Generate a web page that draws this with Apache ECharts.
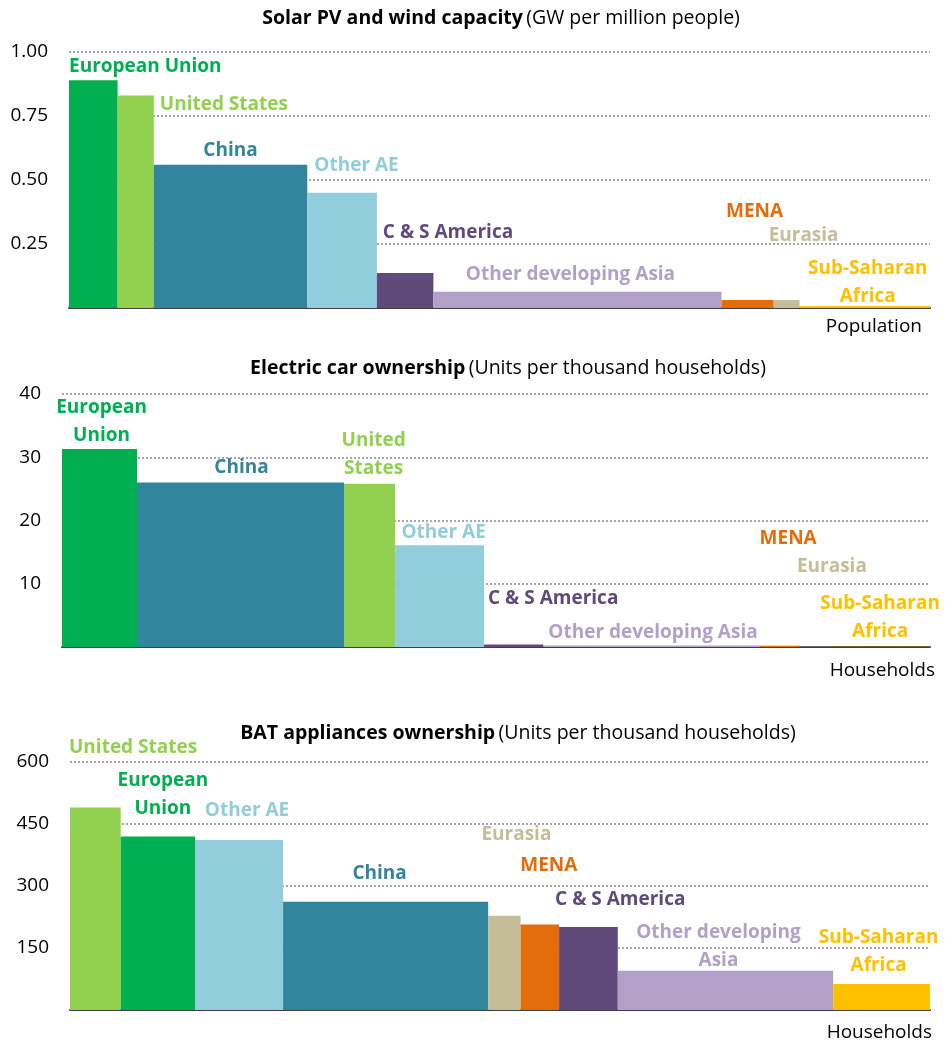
<!DOCTYPE html>
<html>
<head>
<meta charset="utf-8">
<script src="https://cdn.jsdelivr.net/npm/echarts@6/dist/echarts.min.js"></script>
<style>
  html, body { margin: 0; padding: 0; background: #fff; }
  #chart { width: 945px; height: 1049px; }
</style>
</head>
<body>
<div id="chart"></div>
<script>
// Solar PV and wind capacity (GW per million people), bar width = population (million)
var pvRegions = ['European Union', 'United States', 'China', 'Other AE', 'C & S America', 'Other developing Asia', 'MENA', 'Eurasia', 'Sub-Saharan\nAfrica'];
var pvPopulation = [447, 333, 1412, 640, 520, 2650, 480, 238, 1200];
var pvCapacity = [0.89, 0.83, 0.56, 0.45, 0.137, 0.063, 0.031, 0.031, 0.008];
var pvTicks = [0, 0.25, 0.5, 0.75, 1];

// Electric car ownership (units per thousand households), bar width = households (million)
var evRegions = ['European\nUnion', 'China', 'United\nStates', 'Other AE', 'C & S America', 'Other developing Asia', 'MENA', 'Eurasia', 'Sub-Saharan\nAfrica'];
var evHouseholds = [195, 538, 133, 231, 154, 565, 101, 85, 254];
var evOwnership = [31.3, 26.0, 25.8, 16.1, 0.4, 0.25, 0.2, 0.05, 0.05];
var evTicks = [0, 10, 20, 30, 40];

// BAT appliances ownership (units per thousand households)
var batRegions = ['United States', 'European\nUnion', 'Other AE', 'China', 'Eurasia', 'MENA', 'C & S America', 'Other developing\nAsia', 'Sub-Saharan\nAfrica'];
var batHouseholds = [133, 195, 231, 538, 85, 101, 154, 565, 254];
var batOwnership = [490, 420, 411, 262, 228, 207, 201, 95, 63];
var batTicks = [0, 150, 300, 450, 600];

// colours per region
var regionColor = {
  'European Union': '#00AF50',
  'United States': '#92D050',
  'China': '#31859C',
  'Other AE': '#92CDDC',
  'C & S America': '#604A7B',
  'Other developing Asia': '#B1A0C7',
  'MENA': '#E46C0A',
  'Eurasia': '#C4BD97',
  'Sub-Saharan Africa': '#FFC000'
};

// label placement: [anchor (c = bar centre, l = bar left, r = bar right), dx, dy from bar top]
var pvLabelPos = [['l', 0, -14], ['r', 6, 9], ['c', 0, -14], ['l', 7, -27], ['l', 6, -40], ['c', -7, -17], ['c', 7, -88], ['c', 17, -64], ['c', 3, -23]];
var evLabelPos = [['c', 2, -27], ['c', 1, -15], ['c', 4, -29], ['c', 4, -13], ['l', 4, -46], ['c', 1, -13], ['c', 8, -107], ['c', 16, -80], ['c', -1, -29]];
var batLabelPos = [['l', -1, -60], ['c', 5, -42], ['c', 8, -30], ['c', -6, -28], ['c', 12, -81], ['c', 9, -59], ['l', -4, -27], ['c', -7, -24], ['c', -3, -32]];

var FONT = '"Open Sans", "Noto Sans", sans-serif';

function buildData(regions, widths, values) {
  var start = 0;
  return regions.map(function (name, i) {
    var item = { value: [start, start + widths[i], values[i], i], name: name };
    start += widths[i];
    return item;
  });
}

function sum(arr) {
  return arr.reduce(function (a, b) { return a + b; }, 0);
}

function makeRender(regions, labelPos) {
  return function (params, api) {
    var i = api.value(3);
    var topLeft = api.coord([api.value(0), api.value(2)]);
    var bottomRight = api.coord([api.value(1), 0]);
    var name = regions[i];
    var color = regionColor[name.replace('\n', ' ')];
    var pos = labelPos[i];
    var left = topLeft[0], right = bottomRight[0];
    var tx, align;
    if (pos[0] === 'l') { tx = left + pos[1]; align = 'left'; }
    else if (pos[0] === 'r') { tx = right + pos[1]; align = 'left'; }
    else { tx = (left + right) / 2 + pos[1]; align = 'center'; }
    return {
      type: 'group',
      children: [
        {
          type: 'rect',
          shape: { x: left, y: topLeft[1], width: right - left, height: bottomRight[1] - topLeft[1] },
          style: { fill: color }
        },
        {
          type: 'text',
          z2: 10,
          style: {
            text: name,
            x: tx,
            y: topLeft[1] + pos[2],
            align: align,
            verticalAlign: 'middle',
            fill: color,
            font: 'bold 19px ' + FONT,
            lineHeight: 28
          }
        }
      ]
    };
  };
}

function makeYAxis(gridIndex, ticks, digits) {
  return {
    gridIndex: gridIndex,
    type: 'value',
    min: ticks[0],
    max: ticks[ticks.length - 1],
    interval: ticks[1] - ticks[0],
    axisLine: { show: false },
    axisTick: { show: false },
    axisLabel: {
      margin: 21,
      fontSize: 19,
      fontFamily: FONT,
      color: '#000',
      formatter: function (v) { return v === 0 ? '' : v.toFixed(digits); }
    },
    splitLine: {
      show: true,
      lineStyle: { color: '#A6A6A6', type: [2, 2], width: 2 }
    }
  };
}

function makeXAxis(gridIndex, total, name, gap, pad) {
  return {
    gridIndex: gridIndex,
    type: 'value',
    min: 0,
    max: total,
    axisLine: { show: true, lineStyle: { color: '#404040', width: 2 } },
    axisTick: { show: false },
    axisLabel: { show: false },
    splitLine: { show: false },
    name: name,
    nameLocation: 'end',
    nameGap: gap,
    nameTextStyle: {
      align: 'right',
      verticalAlign: 'top',
      padding: [pad, 0, 0, 0],
      fontSize: 19,
      fontFamily: FONT,
      color: '#000'
    }
  };
}

function titleText(x, y, bold, rest) {
  return {
    type: 'text',
    x: x,
    y: y,
    style: {
      text: '{b|' + bold + '} {n|' + rest + '}',
      align: 'center',
      verticalAlign: 'middle',
      rich: {
        b: { fontWeight: 'bold', fontSize: 19.5, fontFamily: FONT, fill: '#000' },
        n: { fontSize: 19.5, fontFamily: FONT, fill: '#000' }
      }
    }
  };
}

var chart = echarts.init(document.getElementById('chart'));
var option = {
  animation: false,
  backgroundColor: '#fff',
  graphic: [
    titleText(501, 18, 'Solar PV and wind capacity', '(GW per million people)'),
    titleText(508, 368, 'Electric car ownership', '(Units per thousand households)'),
    titleText(518, 733, 'BAT appliances ownership', '(Units per thousand households)')
  ],
  grid: [
    { left: 69, right: 15, top: 52, height: 256 },
    { left: 62, right: 15, top: 394, height: 253 },
    { left: 70, right: 15, top: 762, height: 248 }
  ],
  xAxis: [
    makeXAxis(0, sum(pvPopulation), 'Population', -8, 9),
    makeXAxis(1, sum(evHouseholds), 'Households', 5, 14),
    makeXAxis(2, sum(batHouseholds), 'Households', 2, 13)
  ],
  yAxis: [
    makeYAxis(0, pvTicks, 2),
    makeYAxis(1, evTicks, 0),
    makeYAxis(2, batTicks, 0)
  ],
  series: [
    {
      type: 'custom',
      xAxisIndex: 0, yAxisIndex: 0,
      renderItem: makeRender(pvRegions, pvLabelPos),
      encode: { x: [0, 1], y: 2 },
      data: buildData(pvRegions, pvPopulation, pvCapacity)
    },
    {
      type: 'custom',
      xAxisIndex: 1, yAxisIndex: 1,
      renderItem: makeRender(evRegions, evLabelPos),
      encode: { x: [0, 1], y: 2 },
      data: buildData(evRegions, evHouseholds, evOwnership)
    },
    {
      type: 'custom',
      xAxisIndex: 2, yAxisIndex: 2,
      renderItem: makeRender(batRegions, batLabelPos),
      encode: { x: [0, 1], y: 2 },
      data: buildData(batRegions, batHouseholds, batOwnership)
    }
  ]
};
chart.setOption(option);
window.addEventListener('resize', function () {
  chart.resize();
});
</script>
</body>
</html>
